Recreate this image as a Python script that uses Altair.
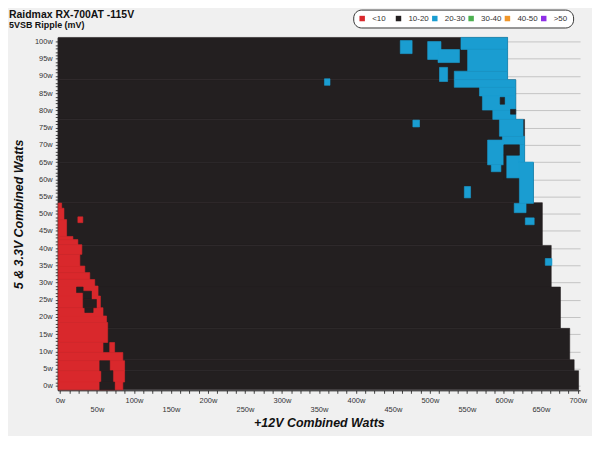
import altair as alt
import pandas as pd

# ---- categories / colours -------------------------------------------------
levels = ["<10", "10-20", "20-30", "30-40", "40-50", ">50"]
level_colors = ["#d9282c", "#231f20", "#1a9dd1", "#4cb050", "#f0962a", "#8e2ee6"]

# ---- axis ticks -----------------------------------------------------------
x_tick_values = [i * 12.5 for i in range(57)]        # 0 .. 700 W
y_tick_values = list(range(0, 101))                   # 0 .. 100 W

# ---- measured area: left edge of the test grid ---------------------------
grid_left = -2.3

# ---- 10-20 mV region (stepped right edge of the tested loads) -------------
base_y0 = [88.9, 77.4, 64.8, 53.2, 40.8, 28.7, 16.7, 7.6, 4.4, -1.15]
base_y1 = [101.2, 88.9, 77.4, 64.8, 53.2, 40.8, 28.7, 16.7, 7.6, 4.4]
base_x1 = [605, 616, 628, 640, 652, 664, 676.5, 689, 695, 701]

# ---- <10 mV region (rows starting at the left edge) -----------------------
red_y0 = [51.6, 48.3, 43.4, 42.5, 41.0, 38.2, 34.8, 32.9, 30.9, 29.0, 26.1,
          22.7, 20.3, 18.4, 12.6, 9.7, 7.3, 4.4, 1.1, -1.15]
red_y1 = [53.1, 51.6, 48.3, 43.4, 42.5, 41.0, 38.2, 34.8, 32.9, 30.9, 29.0,
          26.1, 22.7, 20.3, 18.4, 12.6, 9.7, 7.3, 4.4, 1.1]
red_x1 = [2.3, 5.4, 9.0, 17.5, 24.2, 29.6, 26.9, 33.6, 40.3, 47.0, 51.5,
          54.7, 58.2, 63.0, 64.5, 58.2, 85.0, 87.4, 87.4, 85.0]

# extra <10 patches (x0, x1, y0, y1)
red_patches = [
    (67.2, 73.9, 9.7, 12.6),
    (24.2, 30.9, 47.4, 49.1),
]

# 10-20 mV pockets inside the <10 area (x0, x1, y0, y1)
black_in_red = [
    (22.4, 31.3, 27.1, 28.7),
    (31.3, 42.6, 25.1, 27.5),
    (31.3, 49.3, 22.7, 25.1),
    (33.6, 44.8, 21.3, 22.7),
    (53.8, 67.2, 4.4, 7.3),
    (56.0, 71.6, 1.1, 4.4),
    (53.8, 73.9, -1.15, 1.1),
]

# 20-30 mV patches (x0, x1, y0, y1)
blue_patches = [
    (460, 476, 96.5, 100.3),
    (497, 515, 94.8, 100.0),
    (511, 540, 93.9, 97.7),
    (513, 524, 88.4, 92.5),
    (542, 605, 97.7, 101.2),
    (551, 605, 91.4, 97.7),
    (533, 605, 88.9, 91.4),
    (533, 616, 86.7, 88.9),
    (567, 616, 84.2, 86.7),
    (571, 616, 80.1, 84.2),
    (585, 616, 77.4, 80.1),
    (594, 626, 72.5, 77.4),
    (598, 628, 70.0, 72.5),
    (578, 600, 64.2, 71.4),
    (583, 596, 62.2, 64.2),
    (603, 622, 60.4, 67.0),
    (620, 628, 65.0, 70.0),
    (621, 640, 53.0, 65.0),
    (614, 630, 50.3, 53.0),
    (629, 641, 46.8, 48.8),
    (656, 665, 35.0, 37.0),
    (546.6, 555, 54.6, 57.9),
    (477, 486, 75.2, 77.2),
    (357.5, 365, 87.3, 89.2),
]

# 10-20 mV specks inside the 20-30 area (x0, x1, y0, y1)
black_in_blue = [
    (595, 601, 81.8, 83.8),
    (609, 616, 78.9, 80.3),
    (600, 621, 67.0, 70.0),
    (600, 603, 60.0, 67.0),
]

# ---- build table ----------------------------------------------------------
rows = []
for y0, y1, x1 in zip(base_y0, base_y1, base_x1):
    rows.append(dict(level="10-20", x0=grid_left, x1=x1, y0=y0, y1=y1))
for y0, y1, x1 in zip(red_y0, red_y1, red_x1):
    rows.append(dict(level="<10", x0=grid_left, x1=x1, y0=y0, y1=y1))
for x0, x1, y0, y1 in red_patches:
    rows.append(dict(level="<10", x0=x0, x1=x1, y0=y0, y1=y1))
for x0, x1, y0, y1 in black_in_red:
    rows.append(dict(level="10-20", x0=x0, x1=x1, y0=y0, y1=y1))
for x0, x1, y0, y1 in blue_patches:
    rows.append(dict(level="20-30", x0=x0, x1=x1, y0=y0, y1=y1))
for x0, x1, y0, y1 in black_in_blue:
    rows.append(dict(level="10-20", x0=x0, x1=x1, y0=y0, y1=y1))
df = pd.DataFrame(rows)

color_scale = alt.Scale(domain=levels, range=level_colors)
FONT = "Liberation Sans"

x_axis = alt.Axis(
    values=x_tick_values,
    labelExpr="datum.value % 50 != 0 ? '' : (datum.value % 100 == 0 ? datum.value + 'w' : ['', datum.value + 'w'])",
    labelOverlap=False, labelFlush=False, labelBound=False,
    labelFont=FONT, labelFontSize=7.5, labelColor="#333333", labelLineHeight=8.5,
    labelPadding=3.5, tickSize=3, tickColor="#444444", domainColor="#111111",
    grid=False,
    title="+12V Combined Watts", titleFont=FONT, titleFontSize=12.5,
    titleFontWeight="bold", titleFontStyle="italic", titleColor="#111111",
    titlePadding=4,
)

y_axis = alt.Axis(
    values=y_tick_values,
    labelExpr="datum.value % 5 == 0 ? datum.value + 'w' : ''",
    labelOverlap=False, labelFlush=False, labelBound=False,
    labelFont=FONT, labelFontSize=7.5, labelColor="#333333", labelPadding=3,
    tickSize=2.5, tickColor="#444444", domainColor="#111111",
    grid=True, gridColor="#c4c4c4", gridWidth=1,
    gridOpacity={"condition": {"test": "datum.value % 5 == 0", "value": 1}, "value": 0},
    title="5 & 3.3V Combined Watts", titleFont=FONT, titleFontSize=12.5,
    titleFontWeight="bold", titleFontStyle="italic", titleColor="#111111",
    titlePadding=9,
)

chart = alt.Chart(df).mark_rect(strokeWidth=0.6).encode(
    x=alt.X("x0:Q", scale=alt.Scale(domain=[-3, 703], nice=False, zero=False), axis=x_axis),
    x2="x1:Q",
    y=alt.Y("y0:Q", scale=alt.Scale(domain=[-1.3, 101.2], nice=False, zero=False), axis=y_axis),
    y2="y1:Q",
    color=alt.Color(
        "level:N", scale=color_scale,
        legend=alt.Legend(
            title=None, orient="none", legendX=297, legendY=-28,
            direction="horizontal", symbolType="square", symbolSize=30,
            symbolStrokeWidth=0, labelFont=FONT, labelFontSize=8,
            labelColor="#333333", fillColor="white", strokeColor="#333333",
            cornerRadius=8, padding=5, gridAlign="all", columnPadding=1.5,
            labelOffset=6,
        ),
    ),
    stroke=alt.Stroke("level:N", scale=color_scale, legend=None),
).properties(
    width=525,
    height=354.7,
    autosize=alt.AutoSizeParams(type="none"),
    padding={"left": 50, "top": 28.5, "right": 12, "bottom": 45},
    background="#f0f0f0",
    title=alt.TitleParams(
        text="Raidmax RX-700AT -115V",
        subtitle="5VSB Ripple (mV)",
        anchor="start", frame="group", dx=-49, dy=23, offset=2,
        font=FONT, fontSize=10.5, fontWeight="bold", color="#111111",
        subtitleFont=FONT, subtitleFontSize=9, subtitleFontWeight="bold",
        subtitleColor="#111111", subtitlePadding=1,
    ),
).configure_view(strokeOpacity=0)

chart.save("out.html", embed_options={"renderer": "svg", "actions": False})
